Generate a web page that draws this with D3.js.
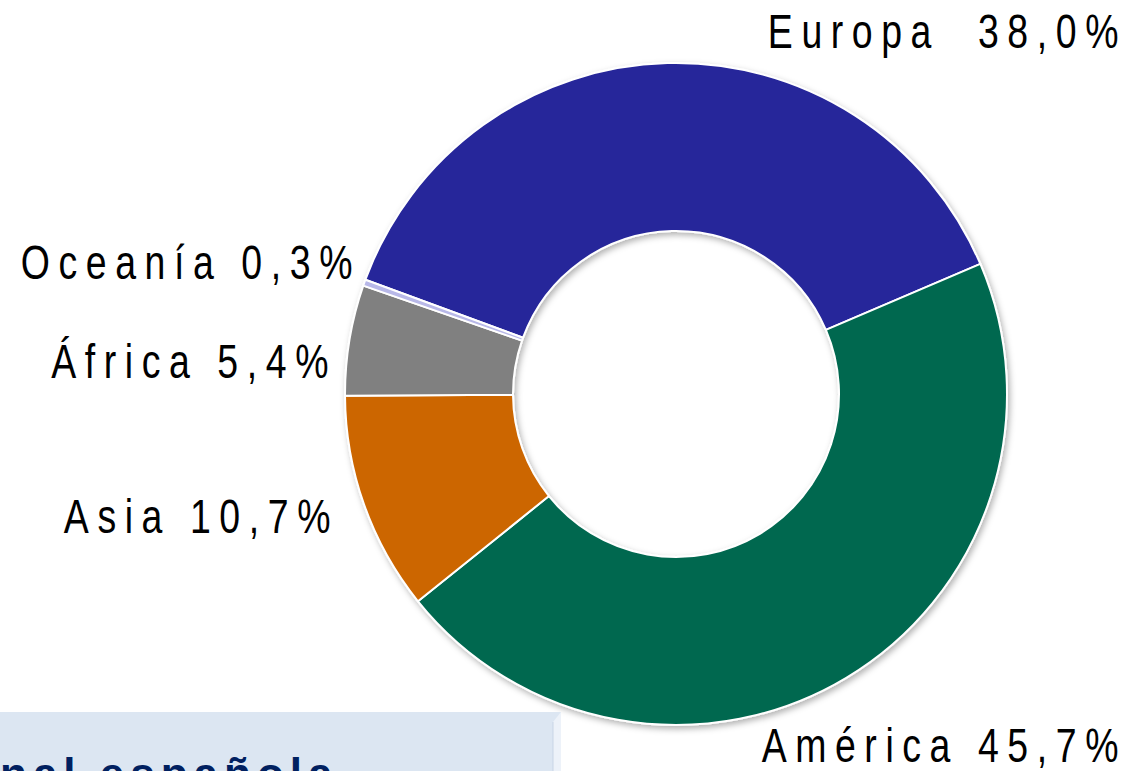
<!DOCTYPE html>
<html>
<head>
<meta charset="utf-8">
<script src="https://cdn.jsdelivr.net/npm/d3@7"></script>
<style>
  html, body { margin: 0; padding: 0; background: #fff; overflow: hidden; }
  .lbl { font-family: "Liberation Sans", Arial, sans-serif; fill: #000; }
</style>
</head>
<body>
<svg id="chart"></svg>
<script>
// data
const regions = ["Europa", "América", "Asia", "África", "Oceanía"];
const shares = [38.0, 45.7, 10.7, 5.4, 0.3];
const shareLabels = ["38,0%", "45,7%", "10,7%", "5,4%", "0,3%"];
const colors = ["#25259A", "#006850", "#CC6600", "#808080", "#B8B8E8"];

const W = 1139, H = 771;
const cx = 676, cy = 394, rOuter = 331, rInner = 163;

// label placement (right edge, baseline, gap)
const labelPos = {
  "Europa": [1127, 48, "  "],
  "América": [1127, 762, " "],
  "Asia": [339, 533, " "],
  "África": [337, 378, " "],
  "Oceanía": [361, 279, " "]
};

const svg = d3.select("#chart").attr("width", W).attr("height", H);

const defs = svg.append("defs");
const f = defs.append("filter").attr("id", "shadow")
  .attr("x", "-10%").attr("y", "-10%").attr("width", "120%").attr("height", "120%");
f.append("feDropShadow").attr("dx", 2).attr("dy", 3).attr("stdDeviation", 3)
  .attr("flood-color", "#000").attr("flood-opacity", 0.3);

const data = regions.map((r, i) => ({ region: r, value: shares[i], label: shareLabels[i], color: colors[i] }));

const start = -69.8 * Math.PI / 180;
const pie = d3.pie().sort(null).value(d => d.value)
  .startAngle(start).endAngle(start + 2 * Math.PI);
const arc = d3.arc().innerRadius(rInner).outerRadius(rOuter);

const g = svg.append("g")
  .attr("transform", `translate(${cx},${cy})`)
  .attr("filter", "url(#shadow)");

g.selectAll("path.slice")
  .data(pie(data))
  .join("path")
  .attr("class", "slice")
  .attr("d", arc)
  .attr("fill", d => d.data.color)
  .attr("stroke", "#fff")
  .attr("stroke-width", 2)
  .attr("stroke-linejoin", "round");

// labels (condensed look: squeeze horizontally)
svg.selectAll("g.lblg")
  .data(data)
  .join("g")
  .attr("class", "lblg")
  .attr("transform", d => `translate(${labelPos[d.region][0]},${labelPos[d.region][1]}) scale(0.78,1)`)
  .append("text")
  .attr("class", "lbl")
  .attr("text-anchor", "end")
  .style("font-size", "48px")
  .style("letter-spacing", "11px")
  .style("white-space", "pre")
  .text(d => d.region + labelPos[d.region][2] + d.label);

// title box at the bottom (cut off)
const box = svg.append("g");
box.append("rect").attr("x", 0).attr("y", 712).attr("width", 561).attr("height", 70)
  .attr("fill", "#DCE6F2");
box.append("path").attr("d", "M553,722 L561,712 L561,771 L553,771 Z").attr("fill", "#EDF2F9");
box.append("line").attr("x1", 553).attr("y1", 722).attr("x2", 553).attr("y2", 771)
  .attr("stroke", "#C9D5E6").attr("stroke-width", 1);
box.append("text")
  .attr("x", 0).attr("y", 789)
  .style("font-family", "'Liberation Sans', Arial, sans-serif")
  .style("font-weight", "bold")
  .style("font-size", "44px")
  .style("letter-spacing", "6px")
  .attr("fill", "#002060")
  .text("nal española");
</script>
</body>
</html>
